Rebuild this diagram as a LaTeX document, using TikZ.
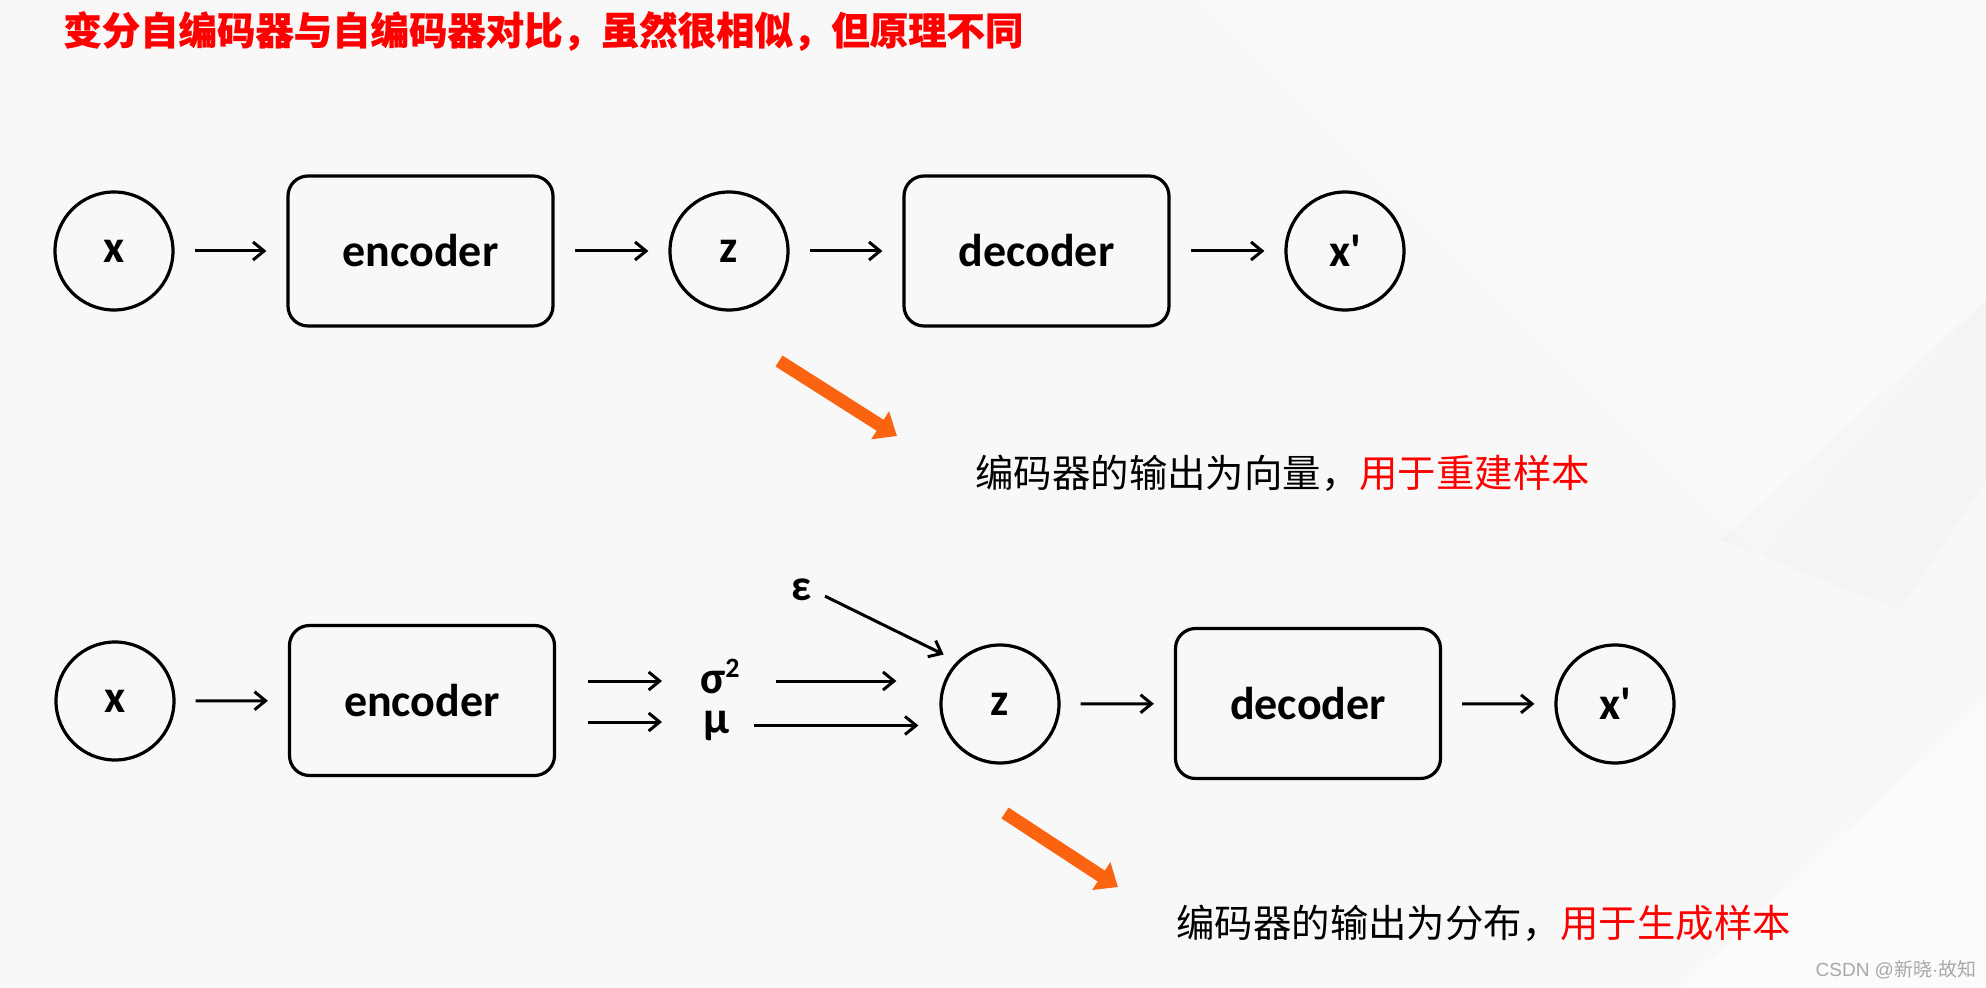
\documentclass[tikz,border=0pt]{standalone}
\usepackage{fontspec}
\setmainfont{Noto Sans CJK SC}
\newfontfamily\titlef{Noto Sans CJK SC}[FakeBold=0.6]
\newfontfamily\latf{Carlito}
\newfontfamily\wmlat{Liberation Sans}
\usetikzlibrary{arrows.meta}
\definecolor{bgc}{HTML}{F8F8F8}
\definecolor{tred}{HTML}{FF0000}
\definecolor{orA}{HTML}{FA6410}
\definecolor{wmc}{HTML}{A8A8A8}
\begin{document}
\begin{tikzpicture}[x=0.5pt,y=-0.5pt,
  circ/.style={circle, draw=black, line width=1.6pt, minimum size=59pt, inner sep=0pt,
    font=\latf\bfseries\fontsize{23}{23}\selectfont},
  blk/.style={rectangle, rounded corners=10pt, draw=black, line width=1.6pt,
    minimum width=132.5pt, minimum height=75pt, inner sep=0pt,
    font=\latf\bfseries\fontsize{23}{23}\selectfont},
  arr/.style={-{Straight Barb[length=5.5pt,width=9pt]}, line width=1.5pt,
    shorten <=10pt, shorten >=10pt},
  grk/.style={inner sep=0pt, font=\latf\bfseries\fontsize{23}{23}\selectfont},
  big/.style={-{Triangle[length=10pt,width=16pt]}, line width=6.5pt, draw=orA},
  body/.style={anchor=west, inner sep=0pt, font=\fontsize{19.2}{19.2}\selectfont}]
% background
\fill[bgc] (0,0) rectangle (1986,988);
\useasboundingbox (0,0) rectangle (1986,988);
\fill[white, opacity=0.35] (1200,0) -- (1986,0) -- (1986,300) -- (1760,560) -- cycle;
\fill[black, opacity=0.015] (1720,540) -- (1900,610) -- (1986,480) -- (1986,300) -- cycle;
\fill[white, opacity=0.5] (1680,988) -- (1986,700) -- (1986,988) -- cycle;

% title
\node[anchor=west, inner sep=0pt, text=tred, font=\titlef\bfseries\fontsize{19.2}{19.2}\selectfont]
  (title) at (63,31) {变分自编码器与自编码器对比，虽然很相似，但原理不同};

% ---- top row: autoencoder
\node[circ] (x1) at (114,251) {x};
\node[blk] (enc1) at (420.5,251) {encoder};
\node[circ] (z1) at (729,251) {z};
\node[blk] (dec1) at (1036.5,251) {decoder};
\node[circ] (xp1) at (1345,251) {x\symbol{"27}};
\draw[arr] (x1) -- (enc1);
\draw[arr] (enc1) -- (z1);
\draw[arr] (z1) -- (dec1);
\draw[arr] (dec1) -- (xp1);

\coordinate (o1s) at (779,361);
\coordinate (o1e) at (897,436);
\draw[big] (o1s) -- (o1e);
\node[body] (t1) at (975,473) {编码器的输出为向量，\textcolor{tred}{用于重建样本}};

% ---- bottom row: variational autoencoder
\node[circ] (x2) at (115,701) {x};
\node[blk] (enc2) at (422,700.5) {encoder};
\node[grk, anchor=base west] (s2) at (700,693) {σ\raisebox{8pt}{\fontsize{14}{14}\selectfont 2}};
\node[grk, anchor=base west] (mu) at (703,733) {μ};
\node[grk, font=\latf\bfseries\fontsize{22}{22}\selectfont] (eps) at (802,590) {ε};
\node[circ] (z2) at (1000,704) {z};
\node[blk] (dec2) at (1308,703.5) {decoder};
\node[circ] (xp2) at (1615,704) {x\symbol{"27}};

\coordinate (s2a) at (700,681);
\coordinate (mua) at (703,722);
\draw[arr, shorten <=16pt, shorten >=19pt] (enc2.east |- s2a) -- (s2a);
\draw[arr, shorten <=16pt, shorten >=20.5pt] (enc2.east |- mua) -- (mua);
\draw[arr, shorten <=18pt, shorten >=21.5pt] (s2.east |- s2a) -- (z2.west |- s2a);
\draw[arr, shorten <=12pt, shorten >=10.5pt] (mu.east) -- (z2.west |- mu.east);
\draw[arr, shorten <=7pt, shorten >=7.5pt] (eps.east) -- (z2.north west);
\draw[arr] (x2) -- (enc2);
\draw[arr] (z2) -- (dec2);
\draw[arr] (dec2) -- (xp2);

\coordinate (o2s) at (1005,813);
\coordinate (o2e) at (1118,887);
\draw[big] (o2s) -- (o2e);
\node[body] (t2) at (1176,923) {编码器的输出为分布，\textcolor{tred}{用于生成样本}};

% watermark
\node[inner sep=0pt, text=wmc, font=\fontsize{9.5}{9.5}\selectfont] (wm) at (1896,970) {{\wmlat CSDN @}新晓{\wmlat ·}故知};
\end{tikzpicture}
\end{document}
